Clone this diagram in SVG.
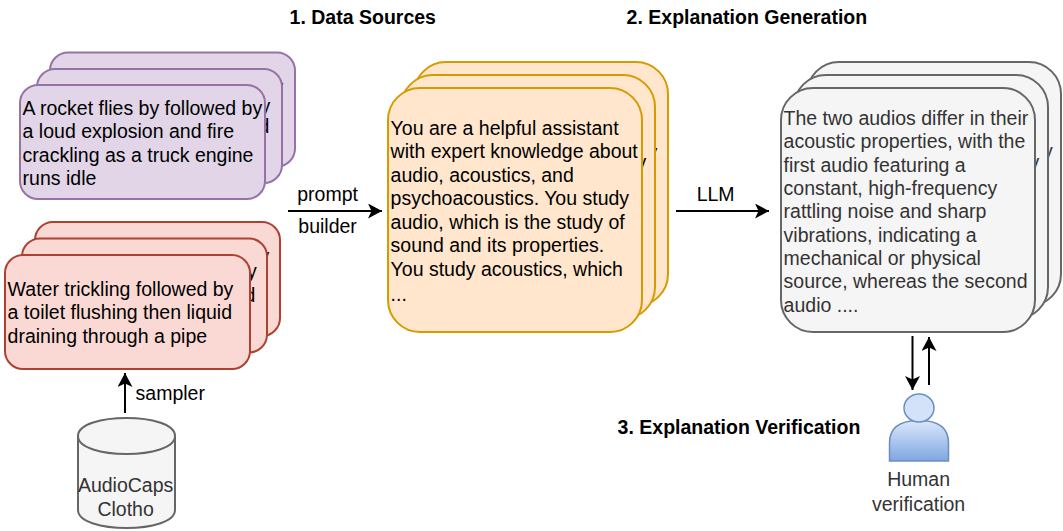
<svg xmlns="http://www.w3.org/2000/svg" width="1063" height="531" viewBox="0 0 1063 531">
<defs>
<style>
text{font-family:"Liberation Sans",Arial,sans-serif;font-size:19.500px;fill:#000;transform:translate(-.4px,.7px)}
.h{font-weight:bold}
.g{fill:#333}
.p rect{fill:#e1d5e7;stroke:#9673a6;stroke-width:2}
.r rect{fill:#fad9d5;stroke:#ae4132;stroke-width:2}
.o rect{fill:#ffe6cc;stroke:#d79b00;stroke-width:2}
.s rect{fill:#f5f5f5;stroke:#666;stroke-width:2}
.c line{stroke:#000;stroke-width:2;fill:none}
</style>
<marker id="a" markerUnits="userSpaceOnUse" markerWidth="15" markerHeight="15" refX="14" refY="7.5" orient="auto"><path d="M0 0L14 7.5L0 15L3.5 7.5Z" fill="#000"/></marker>
<linearGradient id="u" x1="0" y1="0" x2="0" y2="1"><stop offset="0" stop-color="#dae8fc"/><stop offset="1" stop-color="#7ea6e0"/></linearGradient>
</defs>
<text class="h" x="290" y="23">1. Data Sources</text>
<text class="h" x="627" y="23">2. Explanation Generation</text>
<text class="h" x="618" y="433">3. Explanation Verification</text>
<g id="purple-cards" class="p">
<rect x="50" y="52.500" width="245" height="114" rx="18"/>
<text x="274" y="93">y</text>
<rect x="37" y="69" width="245" height="114" rx="18"/>
<text x="261" y="112">y</text><text x="259" y="132">d</text>
<rect x="20" y="85" width="245" height="114" rx="18"/>
<text x="23" y="114">A rocket flies by followed by</text>
<text x="23" y="137">a loud explosion and fire</text>
<text x="23" y="161">crackling as a truck engine</text>
<text x="23" y="184">runs idle</text>
</g>
<g id="red-cards" class="r">
<rect x="35" y="222" width="245" height="114" rx="18"/>
<text x="260" y="262">y</text>
<rect x="22" y="238.500" width="245" height="114" rx="18"/>
<text x="247.500" y="277">y</text><text x="245" y="301">d</text>
<rect x="5" y="255" width="245" height="114" rx="18"/>
<text x="8" y="295">Water trickling followed by</text>
<text x="8" y="318">a toilet flushing then liquid</text>
<text x="8" y="342">draining through a pipe</text>
</g>
<g id="prompt-cards" class="o">
<rect x="414" y="62" width="254" height="244" rx="32"/>
<text x="648" y="158">y</text>
<rect x="401" y="75" width="254" height="244" rx="32"/>
<text x="637" y="168">y</text>
<rect x="388" y="88" width="254" height="244" rx="32"/>
<text x="391" y="134">You are a helpful assistant</text>
<text x="391" y="157">with expert knowledge about</text>
<text x="391" y="181">audio, acoustics, and</text>
<text x="391" y="204">psychoacoustics. You study</text>
<text x="391" y="228">audio, which is the study of</text>
<text x="391" y="251">sound and its properties.</text>
<text x="391" y="275">You study acoustics, which</text>
<text x="391" y="300">...</text>
</g>
<g id="explanation-cards" class="s">
<rect x="807" y="62" width="254" height="244" rx="32"/>
<text class="g" x="1043.500" y="157">y</text>
<rect x="794" y="75" width="254" height="244" rx="32"/>
<text class="g" x="1030" y="168">y</text>
<rect x="781" y="88" width="254" height="244" rx="32"/>
<text class="g" x="784" y="124">The two audios differ in their</text>
<text class="g" x="784" y="147">acoustic properties, with the</text>
<text class="g" x="784" y="171">first audio featuring a</text>
<text class="g" x="784" y="194">constant, high-frequency</text>
<text class="g" x="784" y="217">rattling noise and sharp</text>
<text class="g" x="784" y="241">vibrations, indicating a</text>
<text class="g" x="784" y="264">mechanical or physical</text>
<text class="g" x="784" y="287">source, whereas the second</text>
<text class="g" x="784" y="311">audio ....</text>
</g>
<g id="audiocaps">
<path d="M78 436C78 412 175 412 175 436V510C175 534 78 534 78 510Z" fill="#f5f5f5" stroke="#666" stroke-width="2"/>
<path d="M78 436C78 460 175 460 175 436" fill="none" stroke="#666" stroke-width="2"/>
<text class="g" x="126" y="491" text-anchor="middle">AudioCaps</text>
<text class="g" x="126" y="515" text-anchor="middle">Clotho</text>
</g>
<g id="human">
<path d="M889.500 461V443C889.500 428 899 420.500 919 420.500C939 420.500 948.500 428 948.500 443V461Z" fill="url(#u)" stroke="#6c8ebf" stroke-width="1.500"/>
<ellipse cx="919" cy="408" rx="15" ry="14" fill="#d3e2f8" stroke="#6c8ebf" stroke-width="1.500"/>
<text class="g" x="919" y="485" text-anchor="middle">Human</text>
<text class="g" x="919" y="510" text-anchor="middle">verification</text>
</g>
<g id="connectors" class="c">
<line x1="288" y1="211" x2="382" y2="211" marker-end="url(#a)"/>
<line x1="676" y1="211" x2="769" y2="211" marker-end="url(#a)"/>
<line x1="125" y1="413" x2="125" y2="373" marker-end="url(#a)"/>
<line x1="912.500" y1="336" x2="912.500" y2="390" marker-end="url(#a)"/>
<line x1="929" y1="385" x2="929" y2="337" marker-end="url(#a)"/>
</g>
<g id="labels">
<text x="328" y="200" text-anchor="middle">prompt</text>
<text x="328" y="232" text-anchor="middle">builder</text>
<text x="716" y="200" text-anchor="middle">LLM</text>
<text x="136" y="399">sampler</text>
</g>
</svg>
